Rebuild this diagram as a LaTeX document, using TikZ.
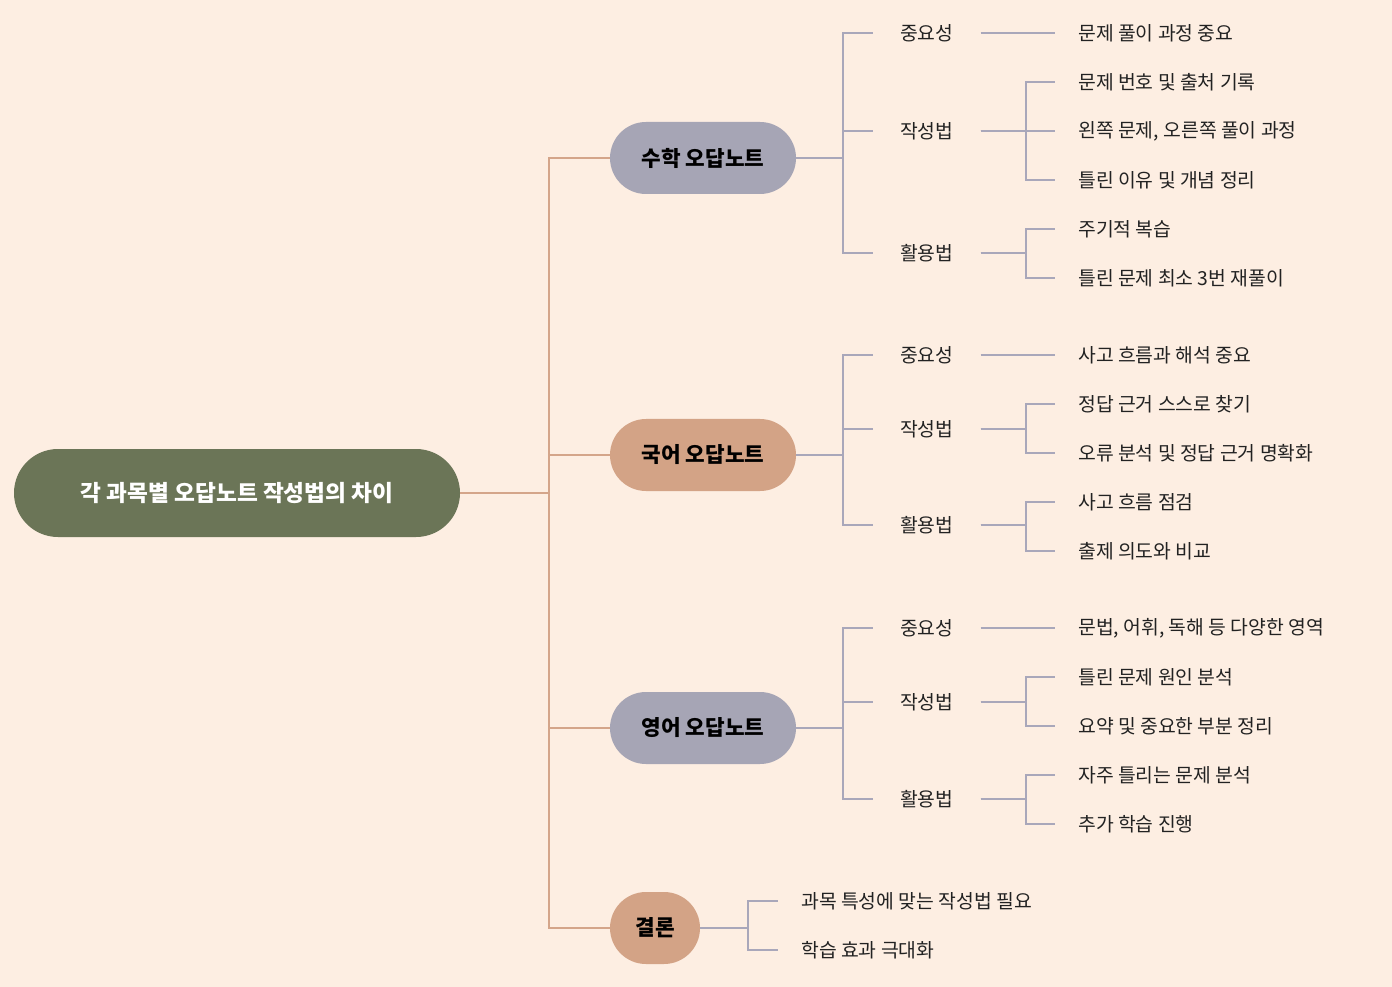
\documentclass[tikz,border=0pt]{standalone}
\usepackage{fontspec}
\setmainfont{Noto Sans CJK KR}
\begin{document}
\begin{tikzpicture}[x=0.75pt,y=-0.75pt,
  lav/.style={draw=lavl,line width=1.5pt},
  pch/.style={draw=pchl,line width=1.5pt},
  rootbox/.style={fill=rootc,rounded corners=33pt,minimum width=334.5pt,minimum height=66pt,text=white,font=\fontsize{17}{20}\selectfont\bfseries},
  subbox/.style={rounded corners=27pt,minimum width=139.5pt,minimum height=54pt,font=\fontsize{16}{19}\selectfont\bfseries,text=black},
  lbl/.style={inner sep=0pt,minimum width=80.25pt,align=center,font=\fontsize{14.5}{17}\selectfont,text=txt},
  det/.style={inner xsep=17.25pt,inner ysep=0pt,anchor=west,font=\fontsize{14.5}{17}\selectfont,text=txt}]
\definecolor{bg}{HTML}{FDEEE2}
\definecolor{rootc}{HTML}{6B7557}
\definecolor{lavc}{HTML}{A6A5B5}
\definecolor{pchc}{HTML}{D3A386}
\definecolor{lavl}{HTML}{A9A7BA}
\definecolor{pchl}{HTML}{D4A58A}
\definecolor{txt}{HTML}{222222}
\fill[bg] (0,0) rectangle (1392,987);
\useasboundingbox (0,0) rectangle (1392,987);
\node[rootbox] (root) at (237,493) {각 과목별 오답노트 작성법의 차이};
\node[subbox,fill=lavc] (m) at (703,158) {수학 오답노트};
\node[subbox,fill=pchc] (k) at (703,455) {국어 오답노트};
\node[subbox,fill=lavc] (e) at (703,728) {영어 오답노트};
\node[subbox,fill=pchc,minimum width=67.5pt] (c) at (655,928) {결론};
\foreach \t in {m,k,e,c} \draw[pch] (root.east) -- ++(89,0) |- (\t.west);
% math
\node[lbl,anchor=west] (m1) at (873,33) {중요성};
\node[lbl,anchor=west] (m2) at (873,131) {작성법};
\node[lbl,anchor=west] (m3) at (873,253) {활용법};
\foreach \t in {m1,m2,m3} \draw[lav] (m.east) -- ++(47,0) |- (\t.west);
\node[det] (m11) at (1055,33) {문제 풀이 과정 중요};
\node[det] (m21) at (1055,82) {문제 번호 및 출처 기록};
\node[det] (m22) at (1055,131) {왼쪽 문제, 오른쪽 풀이 과정};
\node[det] (m23) at (1055,180) {틀린 이유 및 개념 정리};
\node[det] (m31) at (1055,229) {주기적 복습};
\node[det] (m32) at (1055,278) {틀린 문제 최소 3번 재풀이};
\draw[lav] (m1.east) -- (m11.west);
\foreach \t in {m21,m22,m23} \draw[lav] (m2.east) -- ++(45,0) |- (\t.west);
\foreach \t in {m31,m32} \draw[lav] (m3.east) -- ++(45,0) |- (\t.west);
% korean
\node[lbl,anchor=west] (k1) at (873,355) {중요성};
\node[lbl,anchor=west] (k2) at (873,429) {작성법};
\node[lbl,anchor=west] (k3) at (873,525) {활용법};
\foreach \t in {k1,k2,k3} \draw[lav] (k.east) -- ++(47,0) |- (\t.west);
\node[det] (k11) at (1055,355) {사고 흐름과 해석 중요};
\node[det] (k21) at (1055,404) {정답 근거 스스로 찾기};
\node[det] (k22) at (1055,453) {오류 분석 및 정답 근거 명확화};
\node[det] (k31) at (1055,502) {사고 흐름 점검};
\node[det] (k32) at (1055,551) {출제 의도와 비교};
\draw[lav] (k1.east) -- (k11.west);
\foreach \t in {k21,k22} \draw[lav] (k2.east) -- ++(45,0) |- (\t.west);
\foreach \t in {k31,k32} \draw[lav] (k3.east) -- ++(45,0) |- (\t.west);
% english
\node[lbl,anchor=west] (e1) at (873,628) {중요성};
\node[lbl,anchor=west] (e2) at (873,702) {작성법};
\node[lbl,anchor=west] (e3) at (873,799) {활용법};
\foreach \t in {e1,e2,e3} \draw[lav] (e.east) -- ++(47,0) |- (\t.west);
\node[det] (e11) at (1055,628) {문법, 어휘, 독해 등 다양한 영역};
\node[det] (e21) at (1055,677) {틀린 문제 원인 분석};
\node[det] (e22) at (1055,726) {요약 및 중요한 부분 정리};
\node[det] (e31) at (1055,775) {자주 틀리는 문제 분석};
\node[det] (e32) at (1055,824) {추가 학습 진행};
\draw[lav] (e1.east) -- (e11.west);
\foreach \t in {e21,e22} \draw[lav] (e2.east) -- ++(45,0) |- (\t.west);
\foreach \t in {e31,e32} \draw[lav] (e3.east) -- ++(45,0) |- (\t.west);
% conclusion
\node[det,inner xsep=17.25pt] (c1) at (778,901) {과목 특성에 맞는 작성법 필요};
\node[det,inner xsep=17.25pt] (c2) at (778,950) {학습 효과 극대화};
\foreach \t in {c1,c2} \draw[lav] (c.east) -- ++(48,0) |- (\t.west);
\end{tikzpicture}
\end{document}
